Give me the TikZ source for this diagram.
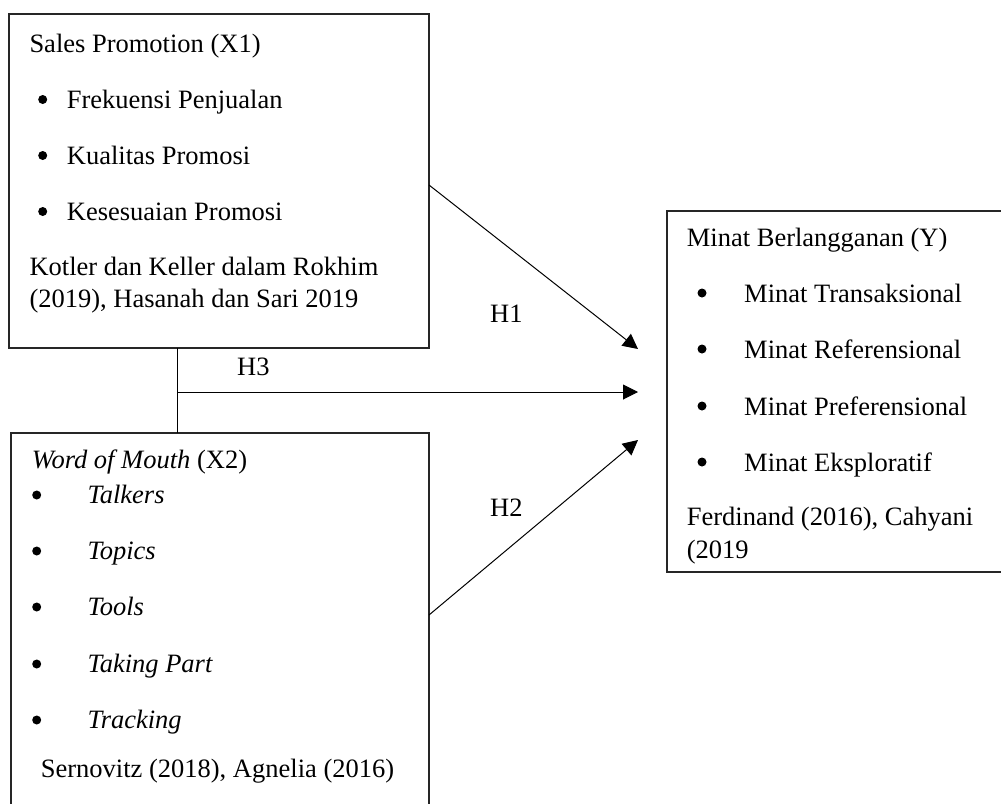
\documentclass[tikz,border=0pt]{standalone}
\usepackage{fontspec}
\setmainfont{Liberation Serif}
\usetikzlibrary{arrows.meta}
\begin{document}
\begin{tikzpicture}[x=1pt,y=-1pt,
  box/.style={draw=black!85, line width=1.2pt, inner sep=0pt, rectangle},
  txt/.style={anchor=base west, inner sep=0pt, font=\fontsize{26.5}{32}\selectfont},
  dotb/.style={circle, fill=black, inner sep=0pt, minimum size=9pt},
  conn/.style={line width=1pt},
  arr/.style={conn, -{Triangle[length=15pt,width=15pt]}}]
\useasboundingbox (0,0) rectangle (1001,803);
\clip (0,0) rectangle (1001,803);
% boxes
\node[box, minimum width=420pt, minimum height=334pt] (x1) at (219,181) {};
\node[box, minimum width=418pt, minimum height=382pt] (x2) at (220,624) {};
\node[box, minimum width=348pt, minimum height=361pt] (y) at (841,391.5) {};
% box X1 text
\node[txt] (x1t) at (29.3,52) {Sales Promotion (X1)};
\node[dotb] (x1b1) at (42.7,99.5) {};
\node[txt] (x1i1) at (66.7,108) {Frekuensi Penjualan};
\node[dotb] (x1b2) at (42.7,155.5) {};
\node[txt] (x1i2) at (66.7,164) {Kualitas Promosi};
\node[dotb] (x1b3) at (42.7,211.5) {};
\node[txt] (x1i3) at (66.7,220) {Kesesuaian Promosi};
\node[txt] (x1r1) at (29.3,275) {Kotler dan Keller dalam Rokhim};
\node[txt] (x1r2) at (29.3,307) {(2019), Hasanah dan Sari 2019};
% box X2 text
\node[txt] (x2t) at (31.7,468) {\textit{Word of Mouth} (X2)};
\node[dotb] (x2b1) at (36.7,495) {};
\node[txt] (x2i1) at (87.3,503) {\textit{Talkers}};
\node[dotb] (x2b2) at (36.7,551) {};
\node[txt] (x2i2) at (87.3,559) {\textit{Topics}};
\node[dotb] (x2b3) at (36.7,607) {};
\node[txt] (x2i3) at (87.3,615) {\textit{Tools}};
\node[dotb] (x2b4) at (36.7,664) {};
\node[txt] (x2i4) at (87.3,672) {\textit{Taking Part}};
\node[dotb] (x2b5) at (36.7,720) {};
\node[txt] (x2i5) at (87.3,728) {\textit{Tracking}};
\node[txt] (x2r) at (40.7,777) {Sernovitz (2018), Agnelia (2016)};
% box Y text
\node[txt] (yt) at (686.7,246) {Minat Berlangganan (Y)};
\node[dotb] (yb1) at (702,293) {};
\node[txt] (yi1) at (744,302) {Minat Transaksional};
\node[dotb] (yb2) at (702,349) {};
\node[txt] (yi2) at (744,358) {Minat Referensional};
\node[dotb] (yb3) at (702,406) {};
\node[txt] (yi3) at (744,415) {Minat Preferensional};
\node[dotb] (yb4) at (702,462) {};
\node[txt] (yi4) at (744,471) {Minat Eksploratif};
\node[txt] (yr1) at (686.7,525) {Ferdinand (2016), Cahyani};
\node[txt] (yr2) at (686.7,558) {(2019};
% connectors
\coordinate (h1s) at (429,185);
\coordinate (h1e) at (638,349);
\coordinate (h2s) at (429,615);
\coordinate (h2e) at (638,440);
\coordinate (v1) at (177,348);
\coordinate (v2) at (177,433);
\coordinate (h3s) at (177,392);
\coordinate (h3e) at (638,392);
\draw[arr] (h1s) -- (h1e);
\draw[arr] (h2s) -- (h2e);
\draw[conn] (v1) -- (v2);
\draw[arr] (h3s) -- (h3e);
% labels
\node[txt] (lh1) at (490,322) {H1};
\node[txt] (lh2) at (490,516) {H2};
\node[txt] (lh3) at (237,375) {H3};
\end{tikzpicture}
\end{document}
